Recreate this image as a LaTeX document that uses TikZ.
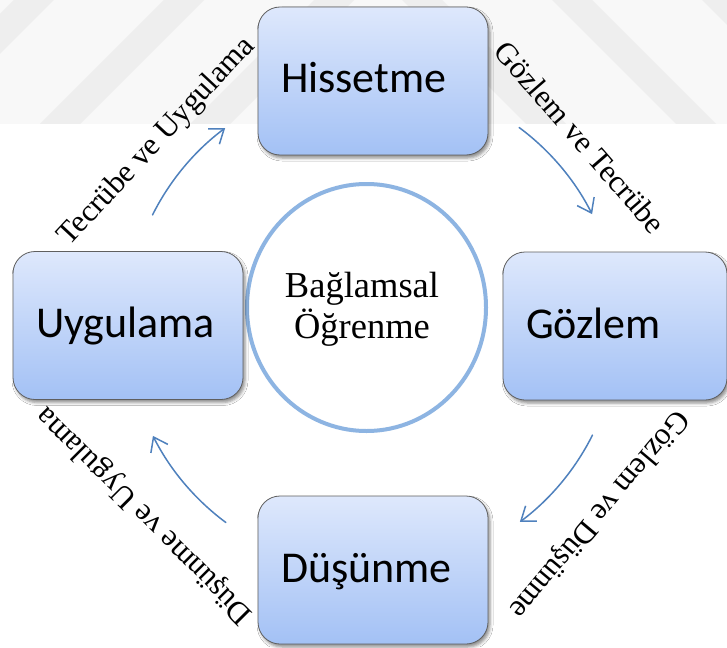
\documentclass[tikz,border=0pt]{standalone}
\usepackage{fontspec}
\setmainfont{Liberation Serif}
\newfontfamily\boxfont{Carlito}
\usetikzlibrary{shapes.geometric,arrows.meta,shadows.blur,calc}
\definecolor{flowblue}{RGB}{79,129,189}
\definecolor{ringblue}{RGB}{141,180,226}
\definecolor{boxtop}{RGB}{222,232,252}
\definecolor{boxbot}{RGB}{163,193,245}
\definecolor{boxedge}{RGB}{95,95,95}
\definecolor{wmband}{RGB}{248,248,248}
\definecolor{wmstripe}{RGB}{238,238,238}
\tikzset{
  stagebox/.style={rectangle, rounded corners=22pt, draw=boxedge, line width=0.8pt,
    top color=boxtop, bottom color=boxbot, minimum height=148pt,
    text width=#1, inner xsep=23pt, inner ysep=0pt, align=left,
    text height=24pt, text depth=0pt,
    font=\boxfont\fontsize{44}{48}\selectfont,
    blur shadow={shadow xshift=2pt, shadow yshift=-3pt, shadow blur radius=3pt, shadow opacity=45}},
  flowarrow/.style={draw=flowblue, line width=1.5pt, line cap=round,
    -{Straight Barb[length=13pt,width=19pt]}},
  cyclelabel/.style={font=\fontsize{31}{35}\selectfont, inner sep=0pt},
  ringstyle/.style={ellipse, draw=ringblue, line width=4pt, inner sep=0pt},
  wmpiece/.style={fill=wmstripe, draw=none}
}
\begin{document}
\begin{tikzpicture}[x=1pt,y=-1pt]
\useasboundingbox (0,0) rectangle (727,647);
\fill[white] (0,0) rectangle (727,647);
% faint watermark band
\fill[wmband] (0,0) rectangle (727,124);
\foreach \s in {-110,40,190} {
  \fill[wmpiece] (\s,124) -- (\s+40,124) -- (\s+164,0) -- (\s+124,0) -- cycle;
}
\foreach \s in {-110,40,190} {
  \fill[wmpiece] (756-\s,124) -- (716-\s,124) -- (592-\s,0) -- (632-\s,0) -- cycle;
}
% central ring
\node[ringstyle, minimum width=239pt, minimum height=247pt] (ring) at (366.5,307.5) {};
\node[align=center, font=\fontsize{36.5}{41}\selectfont, inner sep=0pt] (ctx) at (362,309) {Bağlamsal\\Öğrenme};
% stage boxes
\node[stagebox=184pt, minimum width=230pt] (his) at (373,81) {Hissetme};
\node[stagebox=178pt, minimum width=224pt] (goz) at (615,326) {Gözlem};
\node[stagebox=184pt, minimum width=230pt] (dus) at (373,570) {Düşünme};
\node[stagebox=184pt, minimum width=230pt] (uyg) at (128,325.5) {Uygulama};
% arrows on a circle around the centre
\coordinate (C) at (372.5,325);
\coordinate (tls) at ($(C)+(206.6:246)$);
\coordinate (trs) at ($(C)+(-53.4:246)$);
\coordinate (brs) at ($(C)+(26.6:246)$);
\coordinate (bls) at ($(C)+(126.6:246)$);
\draw[flowarrow] (tls) arc[start angle=206.6, end angle=233.2, radius=246];
\draw[flowarrow] (trs) arc[start angle=-53.4, end angle=-26.8, radius=246];
\draw[flowarrow] (brs) arc[start angle=26.6, end angle=53.2, radius=246];
\draw[flowarrow] (bls) arc[start angle=126.6, end angle=153.2, radius=246];
% labels
\node[cyclelabel, rotate=47] (ltl) at (157,142) {Tecrübe ve Uygulama};
\node[cyclelabel, rotate=-49] (ltr) at (580,137) {Gözlem ve Tecrübe};
\node[cyclelabel, rotate=-130] (lbr) at (598,514) {Gözlem ve Düşünme};
\node[cyclelabel, rotate=135] (lbl) at (145,515) {Düşünme ve Uygulama};
\end{tikzpicture}
\end{document}
